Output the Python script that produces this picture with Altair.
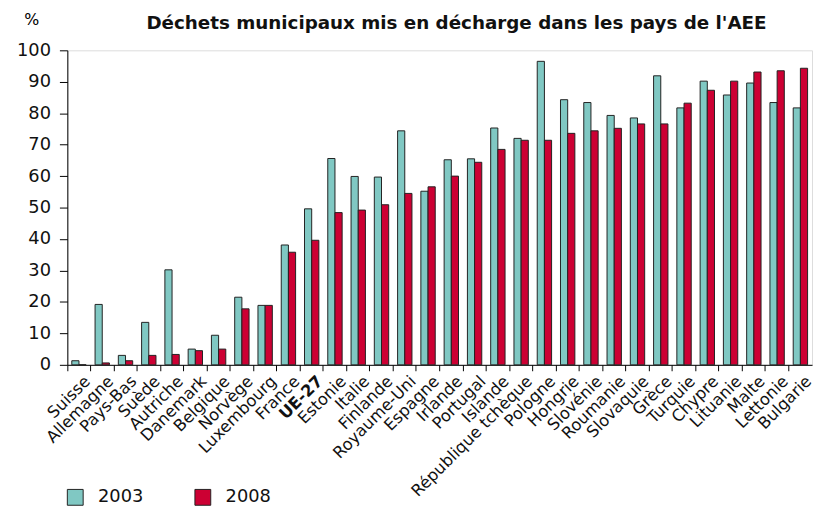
import altair as alt
import pandas as pd

countries = ["Suisse", "Allemagne", "Pays-Bas", "Suède", "Autriche", "Danemark", "Belgique",
             "Norvège", "Luxembourg", "France", "UE-27", "Estonie", "Italie", "Finlande",
             "Royaume-Uni", "Espagne", "Irlande", "Portugal", "Islande", "République tchèque",
             "Pologne", "Hongrie", "Slovénie", "Roumanie", "Slovaquie", "Grèce", "Turquie",
             "Chypre", "Lituanie", "Malte", "Lettonie", "Bulgarie"]
v2003 = [1.3, 19.2, 3.0, 13.5, 30.2, 5.0, 9.4, 21.5, 18.9, 38.1, 49.6, 65.6, 59.9, 59.7,
         74.4, 55.2, 65.2, 65.5, 75.3, 72.0, 96.5, 84.3, 83.4, 79.3, 78.5, 91.9, 81.7,
         90.2, 85.8, 89.6, 83.4, 81.7]
v2008 = [0.0, 0.6, 1.3, 3.0, 3.3, 4.5, 5.0, 17.8, 18.9, 35.8, 39.6, 48.4, 49.2, 50.9,
         54.5, 56.6, 60.0, 64.4, 68.5, 71.4, 71.4, 73.6, 74.4, 75.2, 76.6, 76.6, 83.2,
         87.3, 90.2, 93.1, 93.5, 94.3]
years = ["2003", "2008"]
colors = ["#80C8C3", "#CC0033"]

rows = []
for c, a, b in zip(countries, v2003, v2008):
    rows.append({"pays": c, "annee": years[0], "valeur": a})
    rows.append({"pays": c, "annee": years[1], "valeur": b})
df = pd.DataFrame(rows)

font = "DejaVu Sans"

chart = alt.Chart(df).mark_bar(stroke="#222222", strokeWidth=1).encode(
    x=alt.X("pays:N", sort=countries,
            scale=alt.Scale(paddingInner=0, paddingOuter=0),
            axis=alt.Axis(title=None, labelAngle=-45, labelAlign="right", labelBaseline="top",
                          labelFontSize=16.5, labelFont=font, labelColor="#111111",
                          labelFontWeight={"expr": "datum.value == 'UE-27' ? 'bold' : 'normal'"},
                          bandPosition=0, tickSize=6, tickColor="#000000", domainColor="#000000",
                          labelPadding=2, labelOffset=3)),
    xOffset=alt.XOffset("annee:N", scale=alt.Scale(paddingOuter=0.62, paddingInner=0)),
    y=alt.Y("valeur:Q", scale=alt.Scale(domain=[0, 100], nice=False),
            axis=alt.Axis(values=list(range(0, 101, 10)), grid=False, title="%",
                          titleAngle=0, titleX=-44, titleY=-23, titleAlign="left",
                          titleFontSize=16, titleFontWeight="normal", titleFont=font,
                          labelFontSize=18, labelFont=font, labelColor="#111111",
                          labelPadding=9,
                          tickSize=8, tickColor="#000000", domainColor="#000000")),
    color=alt.Color("annee:N", scale=alt.Scale(domain=years, range=colors),
                    legend=alt.Legend(title=None, orient="none", direction="horizontal",
                                      legendX=-1, legendY=443, symbolType="square",
                                      symbolSize=256, symbolStrokeColor="#222222",
                                      symbolStrokeWidth=1, symbolOpacity=1,
                                      labelFontSize=18, labelFont=font, labelColor="#111111",
                                      labelOffset=14, columnPadding=50)),
).properties(
    width=753, height=318,
    padding={"left": 8, "top": 1, "right": 0, "bottom": 0},
    title=alt.TitleParams("Déchets municipaux mis en décharge dans les pays de l'AEE",
                          fontSize=18.5, fontWeight="bold", font=font, color="#111111",
                          anchor="middle", dx=17, dy=21, offset=0),
).configure_view(stroke=None).configure(background="white")

chart.save("out.html", embed_options={"renderer": "svg", "actions": False})
